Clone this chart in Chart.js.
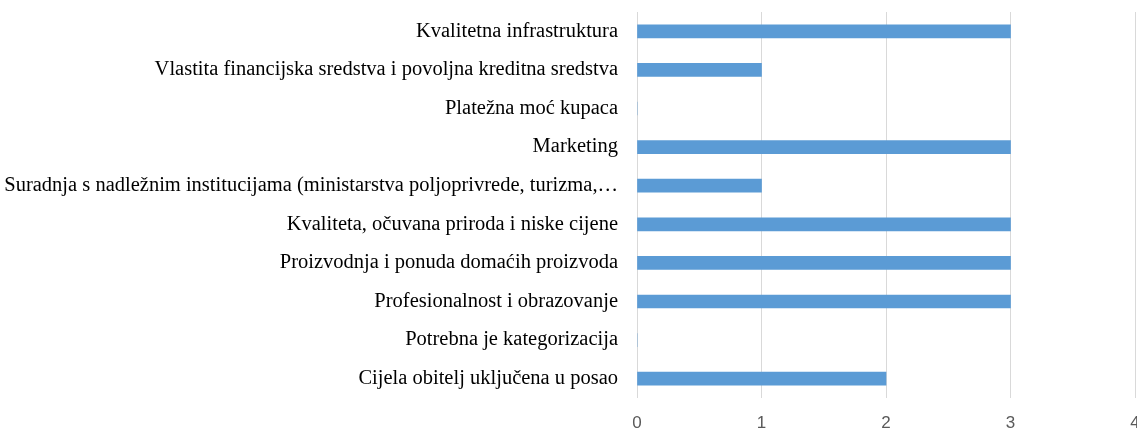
<!DOCTYPE html>
<html>
<head>
<meta charset="utf-8">
<script src="https://cdn.jsdelivr.net/npm/chart.js@4"></script>
<style>
  html, body { margin: 0; padding: 0; background: #fff; overflow: hidden; }
  #wrap { width: 1150px; height: 430px; }
</style>
</head>
<body>
<div id="wrap"><canvas id="chart"></canvas></div>
<script>
// Categories top to bottom, as in the picture
const categories = [
    'Kvalitetna infrastruktura',
    'Vlastita financijska sredstva i povoljna kreditna sredstva',
    'Platežna moć kupaca',
    'Marketing',
    'Suradnja s nadležnim institucijama (ministarstva poljoprivrede, turizma,…',
    'Kvaliteta, očuvana priroda i niske cijene',
    'Proizvodnja i ponuda domaćih proizvoda',
    'Profesionalnost i obrazovanje',
    'Potrebna je kategorizacija',
    'Cijela obitelj uključena u posao'
];
const counts = [3, 1, 0, 3, 1, 3, 3, 3, 0, 2];
const xTicks = [0, 1, 2, 3, 4];

const ctx = document.getElementById('chart').getContext('2d');
new Chart(ctx, {
    type: 'bar',
    data: {
        labels: categories,
        datasets: [{
            data: counts,
            backgroundColor: '#5b9bd5',
            borderWidth: 0,
            barThickness: 13
        }]
    },
    options: {
        indexAxis: 'y',
        responsive: true,
        maintainAspectRatio: false,
        animation: false,
        layout: { padding: { top: 12, right: 15, bottom: 0, left: 0 } },
        plugins: {
            legend: { display: false },
            tooltip: { enabled: false }
        },
        scales: {
            x: {
                min: xTicks[0],
                max: xTicks[xTicks.length - 1],
                afterBuildTicks: scale => { scale.ticks = xTicks.map(v => ({ value: v })); },
                afterFit: scale => {
                    scale.height = 32;
                    scale.paddingLeft = 0;
                    scale.paddingRight = 0;
                },
                grid: { color: '#d9d9d9', drawTicks: false },
                border: { display: false },
                ticks: {
                    padding: 15,
                    color: '#595959',
                    font: { family: 'Liberation Sans', size: 17 }
                }
            },
            y: {
                afterFit: scale => {
                    scale.width = 637;
                    // keep tick padding from pushing the plot area down
                    scale.paddingTop = 0;
                    scale.paddingBottom = 0;
                },
                grid: { display: false, drawTicks: false },
                border: { display: false },
                ticks: {
                    padding: 19,
                    color: '#000',
                    autoSkip: false,
                    font: { family: 'Liberation Serif', size: 20.5 }
                }
            }
        }
    }
});
</script>
</body>
</html>
